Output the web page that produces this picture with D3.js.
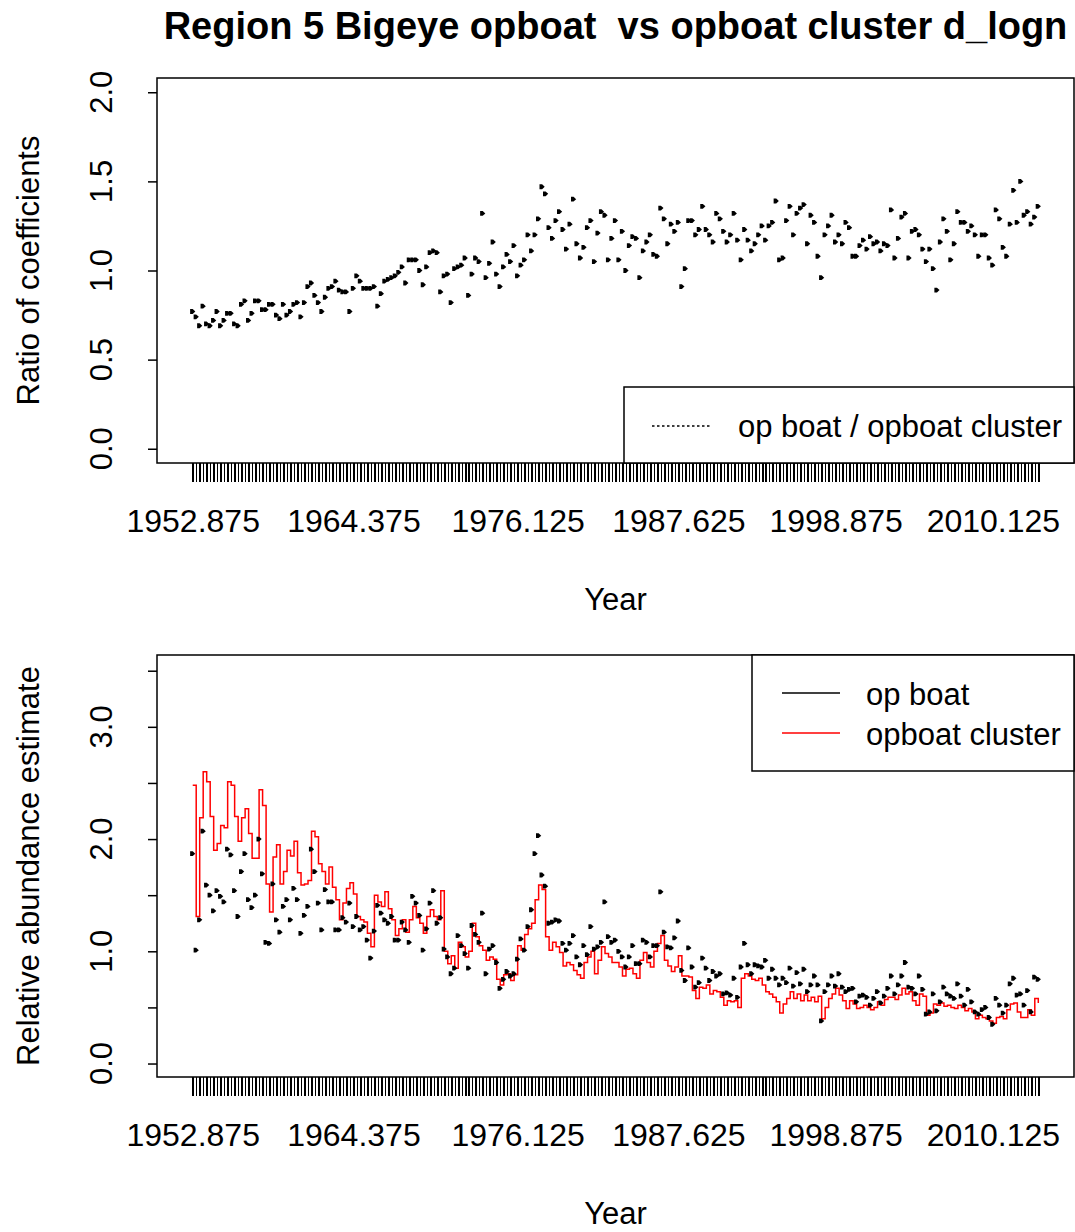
<!DOCTYPE html>
<meta charset="utf-8">
<style>
body { margin: 0; background: #fff; }
svg { font-family: "Liberation Sans", Arial, sans-serif; }
.title { font-size: 38px; font-weight: bold; white-space: pre; }
.tick text { font-size: 32px; }
.lab { font-size: 31px; }
</style>
<svg width="1075" height="1232"></svg>
<script src="https://cdn.jsdelivr.net/npm/d3@7"></script>
<script>

// quarterly factor levels, 1952.875 onwards
var firstQuarter = 1952.875;

var yearLabels = ["1952.875", "1964.375", "1976.125", "1987.625", "1998.875", "2010.125"];

// op boat / opboat cluster (top panel)
var ratio = [
  0.77,0.74,0.69,0.80,0.70,0.69,0.72,0.77,0.69,0.72,0.76,0.76,0.70,0.69,0.81,0.83,0.72,0.76,0.83,0.83,
  0.78,0.78,0.81,0.81,0.75,0.73,0.81,0.75,0.77,0.81,0.82,0.74,0.82,0.91,0.93,0.86,0.82,0.77,0.85,0.90,
  0.91,0.94,0.89,0.88,0.88,0.77,0.90,0.97,0.94,0.90,0.90,0.90,0.91,0.80,0.87,0.94,0.95,0.96,0.97,0.99,
  1.02,0.93,1.06,1.06,1.06,1.00,0.92,1.02,1.10,1.11,1.10,0.88,0.97,0.98,0.82,1.01,1.02,1.03,1.07,0.86,
  0.98,1.07,1.05,1.32,0.96,1.04,1.16,0.98,0.91,1.02,1.09,1.05,1.14,0.97,1.03,1.06,1.20,1.11,1.20,1.29,
  1.47,1.43,1.24,1.18,1.28,1.33,1.23,1.12,1.26,1.40,1.15,1.07,1.13,1.24,1.28,1.05,1.21,1.33,1.31,1.06,
  1.18,1.28,1.06,1.22,1.00,1.14,1.19,1.18,0.96,1.11,1.16,1.20,1.09,1.08,1.35,1.29,1.15,1.26,1.22,1.27,
  0.91,1.01,1.28,1.28,1.20,1.23,1.36,1.23,1.20,1.16,1.32,1.29,1.22,1.16,1.20,1.32,1.17,1.06,1.23,1.17,
  1.11,1.15,1.20,1.25,1.17,1.25,1.27,1.39,1.06,1.07,1.28,1.36,1.20,1.32,1.35,1.37,1.15,1.31,1.27,1.08,
  0.96,1.20,1.25,1.31,1.16,1.20,1.15,1.27,1.24,1.08,1.08,1.14,1.17,1.12,1.19,1.15,1.16,1.11,1.15,1.14,
  1.34,1.07,1.18,1.30,1.32,1.07,1.22,1.23,1.20,1.12,1.05,1.12,1.01,0.89,1.16,1.29,1.22,1.06,1.15,1.33,
  1.27,1.27,1.22,1.25,1.20,1.08,1.20,1.20,1.07,1.03,1.34,1.29,1.13,1.08,1.26,1.45,1.27,1.50,1.31,1.33,
  1.26,1.30,1.36
];

// relative abundance, op boat (points)
var opBoat = [
  1.87,1.01,1.28,2.07,1.59,1.50,1.36,1.54,1.49,1.44,1.91,1.86,1.54,1.31,1.71,1.87,1.46,1.39,1.50,2.00,
  1.69,1.08,1.07,1.60,1.28,1.17,1.40,1.46,1.28,1.56,1.46,1.16,1.32,1.40,1.91,1.71,1.43,1.19,1.55,1.44,
  1.44,1.19,1.19,1.30,1.26,1.43,1.22,1.31,1.19,1.22,1.10,0.94,1.18,1.41,1.34,1.28,1.25,1.31,1.10,1.10,
  1.26,1.19,1.08,1.49,1.43,1.32,1.01,1.20,1.43,1.54,1.25,1.30,1.02,0.95,0.80,0.85,1.14,1.05,0.98,0.85,
  1.23,1.15,1.08,1.34,0.80,1.02,1.05,0.90,0.67,0.75,0.82,0.78,0.80,0.93,1.11,1.01,1.22,1.37,1.87,2.03,
  1.68,1.58,1.25,1.26,1.28,1.27,1.07,1.01,1.07,1.14,0.95,0.88,1.05,0.97,1.22,1.02,1.04,1.08,1.44,1.13,
  1.08,1.10,1.00,0.95,0.86,0.95,1.05,0.89,0.89,1.10,1.08,0.95,1.05,1.05,1.53,1.17,1.04,1.03,1.12,1.27,
  0.83,0.74,1.03,0.86,0.68,0.72,0.94,0.85,0.74,0.82,0.78,0.80,0.62,0.63,0.61,0.76,0.59,0.86,1.07,0.88,
  0.80,0.88,0.87,0.86,0.92,0.76,0.84,0.76,0.70,0.76,0.72,0.85,0.69,0.81,0.71,0.84,0.64,0.70,0.78,0.70,
  0.38,0.64,0.70,0.78,0.69,0.80,0.68,0.64,0.66,0.67,0.55,0.60,0.61,0.59,0.52,0.58,0.64,0.54,0.60,0.67,
  0.78,0.62,0.70,0.78,0.90,0.68,0.67,0.62,0.78,0.66,0.44,0.46,0.62,0.47,0.55,0.68,0.62,0.60,0.58,0.71,
  0.60,0.52,0.66,0.55,0.46,0.44,0.48,0.50,0.41,0.35,0.58,0.52,0.45,0.52,0.71,0.76,0.61,0.62,0.52,0.65,
  0.46,0.77,0.75
];

// relative abundance, opboat cluster (red line)
var cluster = [
  2.48,1.31,2.19,2.60,2.51,2.20,1.90,1.96,2.12,2.10,2.51,2.48,2.20,1.98,2.19,2.27,2.05,1.83,1.83,2.44,
  2.30,1.60,1.35,1.84,1.95,1.60,1.71,1.90,1.85,1.98,1.70,1.59,1.60,1.63,2.07,2.02,1.78,1.71,1.60,1.75,
  1.57,1.46,1.28,1.43,1.56,1.61,1.51,1.31,1.28,1.26,1.16,1.04,1.50,1.44,1.40,1.53,1.38,1.28,1.14,1.20,
  1.28,1.17,1.28,1.40,1.30,1.25,1.16,1.31,1.37,1.31,1.28,1.54,1.00,0.89,0.96,0.85,1.08,1.04,0.95,1.00,
  1.25,1.13,1.05,1.01,0.92,0.95,0.93,0.75,0.70,0.79,0.80,0.74,0.79,1.05,1.01,1.15,1.20,1.25,1.46,1.59,
  1.55,1.13,1.01,1.08,1.04,0.99,0.87,0.90,0.88,0.83,0.79,0.76,0.90,0.95,1.00,0.80,0.92,1.04,0.98,0.95,
  0.90,0.90,0.86,0.78,0.84,0.85,0.80,0.76,0.92,0.99,0.90,0.86,1.00,1.07,1.14,0.92,0.87,0.82,0.86,0.96,
  0.78,0.78,0.77,0.65,0.58,0.68,0.67,0.70,0.62,0.65,0.64,0.59,0.52,0.56,0.55,0.56,0.50,0.76,0.80,0.78,
  0.75,0.74,0.76,0.70,0.64,0.62,0.59,0.55,0.45,0.53,0.58,0.64,0.58,0.62,0.56,0.61,0.56,0.59,0.55,0.60,
  0.40,0.50,0.58,0.62,0.67,0.61,0.56,0.49,0.56,0.53,0.49,0.50,0.52,0.50,0.48,0.50,0.55,0.52,0.57,0.59,
  0.59,0.57,0.61,0.67,0.62,0.64,0.56,0.52,0.62,0.60,0.43,0.45,0.53,0.52,0.54,0.51,0.52,0.50,0.49,0.52,
  0.50,0.47,0.49,0.46,0.40,0.43,0.41,0.40,0.38,0.36,0.41,0.42,0.40,0.48,0.53,0.54,0.46,0.41,0.41,0.48,
  0.43,0.58,0.54
];

var quarters = d3.range(ratio.length).map(function(i) { return (firstQuarter + i * 0.25).toFixed(3); });

var svg = d3.select("svg");

var left = 157, right = 1074;

var x = d3.scalePoint()
    .domain(quarters)
    .range([left, right])
    .padding(0.5 + 0.04 * quarters.length);

// small right-pointing marks, like the collapsed boxplot medians
var mark = "M-2.6,-2.4h2.6l2.6,2.4l-2.6,2.4h-2.6z";

svg.append("text")
    .attr("class", "title")
    .attr("x", (left + right) / 2)
    .attr("y", 39)
    .attr("text-anchor", "middle")
    .text("Region 5 Bigeye opboat  vs opboat cluster d_logn");

function panel(top, bottom, yDomain, yTicks, yLabelTicks, yTitle) {
  var g = svg.append("g");

  var y = d3.scaleLinear().domain(yDomain).range([bottom, top]);

  var xAxis = g.append("g")
      .attr("transform", "translate(0," + bottom + ")")
      .call(d3.axisBottom(x)
        .tickSize(19)
        .tickPadding(27)
        .tickFormat(function(d) { return yearLabels.indexOf(d) >= 0 ? d : ""; }));
  xAxis.select(".domain").remove();
  xAxis.selectAll(".tick line")
      .attr("shape-rendering", "crispEdges")
      .attr("stroke", "#000")
      .attr("stroke-width", 1.5);
  xAxis.selectAll(".tick text").attr("fill", "#000");
  xAxis.attr("font-family", null).attr("font-size", null);

  var yAxis = g.append("g")
      .attr("transform", "translate(" + left + ",0)")
      .call(d3.axisLeft(y).tickValues(yTicks).tickSize(9).tickFormat(""));
  yAxis.select(".domain").remove();
  yAxis.selectAll(".tick line").attr("stroke", "#000").attr("stroke-width", 1.5);

  g.selectAll(".ylab")
    .data(yLabelTicks)
    .enter().append("text")
      .attr("class", "lab")
      .attr("transform", function(d) { return "translate(112," + y(d) + ") rotate(-90)"; })
      .attr("text-anchor", "middle")
      .text(function(d) { return d3.format(".1f")(d); });

  g.append("text")
      .attr("class", "lab")
      .attr("transform", "translate(39," + (top + bottom) / 2 + ") rotate(-90)")
      .attr("text-anchor", "middle")
      .text(yTitle);

  g.append("text")
      .attr("class", "lab")
      .attr("x", (left + right) / 2)
      .attr("y", bottom + 147)
      .attr("text-anchor", "middle")
      .text("Year");

  g.append("rect")
      .attr("x", left)
      .attr("y", top)
      .attr("width", right - left)
      .attr("height", bottom - top)
      .attr("fill", "none")
      .attr("stroke", "#000")
      .attr("stroke-width", 1.5);

  return {g: g, y: y};
}

// top panel
var p1 = panel(78, 463, [-0.08, 2.08], [0, 0.5, 1, 1.5, 2], [0, 0.5, 1, 1.5, 2], "Ratio of coefficients");

p1.g.selectAll(".pt")
  .data(ratio)
  .enter().append("path")
    .attr("d", mark)
    .attr("transform", function(d, i) { return "translate(" + x(quarters[i]) + "," + p1.y(d) + ")"; })
    .attr("fill", "#000");

var lg1 = p1.g.append("g");
lg1.append("rect")
    .attr("x", 624).attr("y", 387)
    .attr("width", right - 624).attr("height", 463 - 387)
    .attr("fill", "#fff").attr("stroke", "#000").attr("stroke-width", 1.5);
lg1.append("line")
    .attr("x1", 652).attr("x2", 712).attr("y1", 426).attr("y2", 426)
    .attr("stroke", "#000").attr("stroke-width", 1.5).attr("stroke-dasharray", "2.5,2.5");
lg1.append("text")
    .attr("class", "lab")
    .attr("x", 738).attr("y", 437)
    .text("op boat / opboat cluster");

// bottom panel
var p2 = panel(655, 1077, [-0.12, 3.64], [0, 0.5, 1, 1.5, 2, 2.5, 3, 3.5], [0, 1, 2, 3], "Relative abundance estimate");

p2.g.append("path")
    .datum(cluster)
    .attr("fill", "none")
    .attr("stroke", "#ff0000")
    .attr("stroke-width", 1.5)
    .attr("d", d3.line()
      .curve(d3.curveStepAfter)
      .x(function(d, i) { return x(quarters[i]); })
      .y(function(d) { return p2.y(d); }));

p2.g.selectAll(".pt")
  .data(opBoat)
  .enter().append("path")
    .attr("d", mark)
    .attr("transform", function(d, i) { return "translate(" + x(quarters[i]) + "," + p2.y(d) + ")"; })
    .attr("fill", "#000");

var series = [
  {name: "op boat", color: "#000"},
  {name: "opboat cluster", color: "#ff0000"}
];

var lg2 = p2.g.append("g");
lg2.append("rect")
    .attr("x", 752).attr("y", 655)
    .attr("width", right - 752).attr("height", 771 - 655)
    .attr("fill", "#fff").attr("stroke", "#000").attr("stroke-width", 1.5);
var item = lg2.selectAll(".item")
  .data(series)
  .enter().append("g")
    .attr("transform", function(d, i) { return "translate(0," + (693 + i * 40) + ")"; });
item.append("line")
    .attr("x1", 782).attr("x2", 840)
    .attr("stroke", function(d) { return d.color; })
    .attr("stroke-width", 1.5);
item.append("text")
    .attr("class", "lab")
    .attr("x", 866).attr("y", 12)
    .text(function(d) { return d.name; });

</script>
